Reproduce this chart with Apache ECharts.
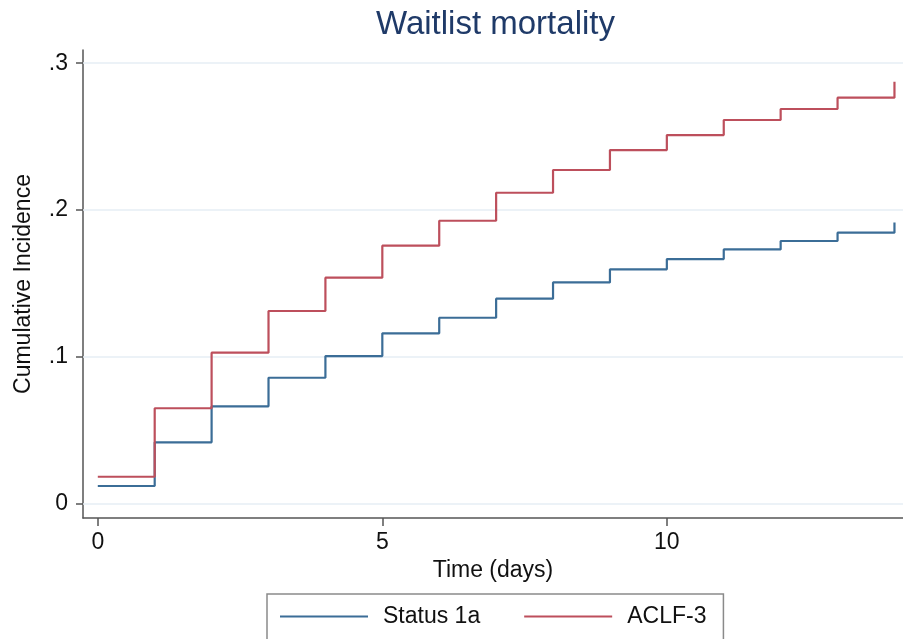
<!DOCTYPE html>
<html>
<head>
<meta charset="utf-8">
<title>Waitlist mortality</title>
<script src="https://cdn.jsdelivr.net/npm/echarts@6/dist/echarts.min.js"></script>
<style>
  html, body { margin: 0; padding: 0; background: #fff; }
  #main { width: 903px; height: 639px; }
</style>
</head>
<body>
<div id="main"></div>
<script>
// step data
var days = [0, 1, 2, 3, 4, 5, 6, 7, 8, 9, 10, 11, 12, 13, 14];
var status1a = [0.0118, 0.0416, 0.0661, 0.0856, 0.1004, 0.1159, 0.1265, 0.1395, 0.1506, 0.1595, 0.1665, 0.1731, 0.1788, 0.1845, 0.1915];
var aclf3 = [0.0181, 0.0648, 0.1027, 0.1311, 0.1538, 0.1756, 0.1926, 0.2117, 0.2272, 0.2408, 0.2510, 0.2613, 0.2688, 0.2765, 0.2874];
var xTicks = [0, 5, 10];
var yTicks = [0, 0.1, 0.2, 0.3];

var font = "'Liberation Sans', Arial, sans-serif";

function pairs(xs, ys) {
  return xs.map(function (x, i) { return [x, ys[i]]; });
}

var chartDom = document.getElementById("main");
var myChart = echarts.init(chartDom);

var option = {
  animation: false,
  title: {
    text: "Waitlist mortality",
    left: 376,
    top: 8,
    padding: 0,
    textStyle: { color: "#1f3a68", fontSize: 33, fontWeight: "normal", fontFamily: font }
  },
  legend: {
    left: 267,
    top: 594,
    padding: [11, 17, 14, 13],
    itemGap: 44,
    itemWidth: 88,
    itemHeight: 2,
    icon: "rect",
    borderColor: "#8a8a8a",
    borderWidth: 1.5,
    textStyle: { color: "#111", fontSize: 23, fontFamily: font, padding: [0, 0, 0, 10] },
    data: ["Status 1a", "ACLF-3"]
  },
  grid: { left: 83, right: 0, top: 50, bottom: 121 },
  xAxis: {
    type: "value",
    min: -0.26,
    max: 14.15,
    name: "Time (days)",
    nameLocation: "middle",
    nameGap: 40,
    nameTextStyle: { color: "#111", fontSize: 23, fontFamily: font },
    axisLine: { onZero: false, lineStyle: { color: "#555", width: 1.5 } },
    axisTick: { customValues: xTicks, length: 8, lineStyle: { color: "#555", width: 1.5 } },
    axisLabel: { customValues: xTicks, margin: 13, color: "#111", fontSize: 23, fontFamily: font },
    splitLine: { show: false }
  },
  yAxis: {
    type: "value",
    min: -0.01,
    max: 0.309,
    name: "Cumulative Incidence",
    nameLocation: "middle",
    nameGap: 48,
    nameTextStyle: { color: "#111", fontSize: 23, fontFamily: font },
    axisLine: { show: true, onZero: false, lineStyle: { color: "#555", width: 1.5 } },
    axisTick: { show: true, customValues: yTicks, length: 7, lineStyle: { color: "#555", width: 1.5 } },
    axisLabel: {
      customValues: yTicks,
      margin: 15,
      color: "#111",
      fontSize: 23,
      fontFamily: font,
      formatter: function (v) {
        if (Math.abs(v) < 1e-9) return "0";
        return String(Math.round(v * 10) / 10).replace(/^0/, "");
      }
    },
    splitLine: { show: false }
  },
  series: [
    {
      name: "Status 1a",
      type: "line",
      step: "end",
      symbol: "none",
      z: 3,
      data: pairs(days, status1a),
      lineStyle: { color: "#3b6d97", width: 2.2 },
      itemStyle: { color: "#3b6d97" },
      markLine: {
        silent: true,
        symbol: "none",
        z: 1,
        label: { show: false },
        lineStyle: { color: "#e6eef4", type: "solid", width: 1.5 },
        data: yTicks.map(function (v) { return { yAxis: v }; })
      }
    },
    {
      name: "ACLF-3",
      type: "line",
      step: "end",
      symbol: "none",
      z: 3,
      data: pairs(days, aclf3),
      lineStyle: { color: "#bd4f5c", width: 2.2 },
      itemStyle: { color: "#bd4f5c" }
    }
  ]
};

option && myChart.setOption(option);
</script>
</body>
</html>
